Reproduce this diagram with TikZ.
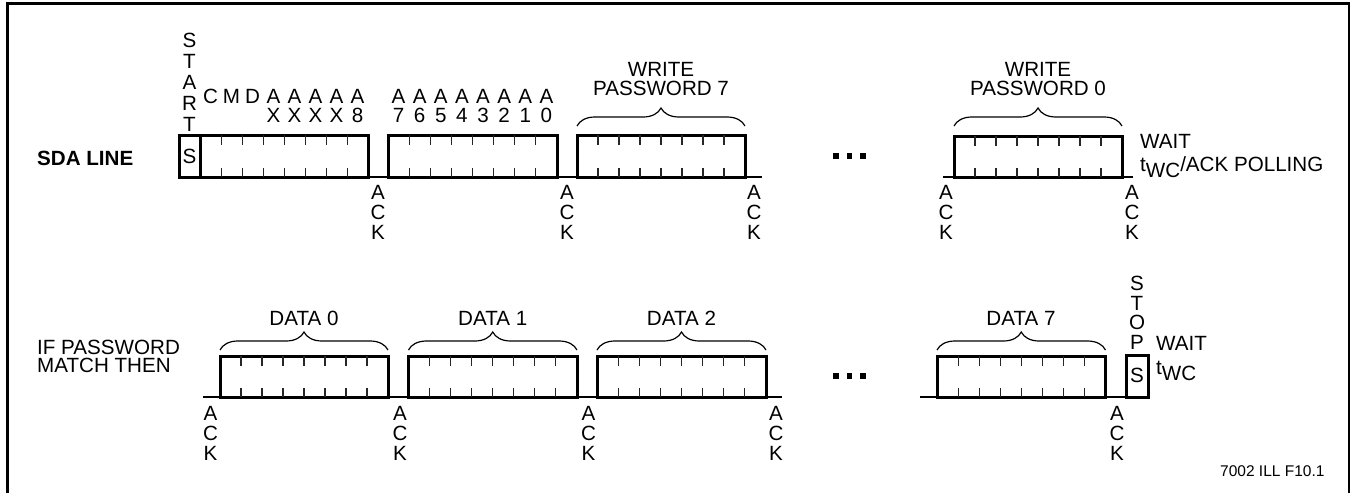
\documentclass[tikz,border=0pt]{standalone}
\usepackage{fontspec}
\setmainfont{Liberation Sans}
\usetikzlibrary{decorations.pathreplacing}
\newcommand\sigbox[4]{%
  \draw[boxline] (#1,#3) rectangle (#2,#4);
  \foreach \k in {1,...,7}{%
    \pgfmathsetmacro\xk{#1+(#2-#1)*\k/8}%
    \draw[tick] (\xk,#3) -- (\xk,#3+10) (\xk,#4) -- (\xk,#4-9);
  }}
\begin{document}
\begin{tikzpicture}[x=1pt,y=-1pt,
  lbl/.style={inner sep=0pt, font=\fontsize{20.6}{20}\selectfont},
  stack/.style={lbl, align=center},
  boxline/.style={line width=3pt},
  base/.style={line width=2.2pt},
  tick/.style={line width=1.1pt, black!85},
  brc/.style={decorate, decoration={brace, amplitude=18pt}, line width=1.2pt},
  frame/.style={line width=2.8pt},
  dot/.style={fill=black}]
\useasboundingbox (0,0) rectangle (1354,493);
\draw[frame] (7.5,493) -- (7.5,3.5) -- (1349,3.5) -- (1349,493);

% ---------- top row ----------
\node[lbl, font=\fontsize{20.6}{20}\selectfont\bfseries, anchor=base west] (sda) at (37,165) {SDA LINE};
\draw[base] (179,177) -- (762,177);
\draw[boxline] (179,135) rectangle (200,177);
\node[lbl] (sstart) at (189.5,156.5) {S};
\sigbox{200}{368.5}{135}{177}
\sigbox{388}{557}{135}{177}
\sigbox{577}{745}{135}{177}
\draw[base] (943,177) -- (1133,177);
\sigbox{954}{1122}{136}{177}

\node[stack, font=\fontsize{20.6}{21}\selectfont, anchor=north] (start) at (189.5,33) {S\\T\\A\\R\\T};

% letters over box 1
\node[lbl, anchor=base] (c1) at (210.5,103) {C};
\node[lbl, anchor=base] (c2) at (231.5,103) {M};
\node[lbl, anchor=base] (c3) at (252.5,103) {D};
\foreach \x/\b [count=\i] in {273.5/X,294.5/X,315.5/X,336.5/X,357.5/8}{
  \node[lbl, anchor=base] (a\i) at (\x,103) {A};
  \node[lbl, anchor=base] (b\i) at (\x,122.5) {\b};
}
% letters over box 2
\foreach \x/\b [count=\i] in {398.6/7,419.7/6,440.8/5,461.9/4,483.1/3,504.2/2,525.3/1,546.4/0}{
  \node[lbl, anchor=base] (aa\i) at (\x,103) {A};
  \node[lbl, anchor=base] (bb\i) at (\x,122.5) {\b};
}

\draw[brc] (577,126) -- (745,126);
\draw[brc] (954,126) -- (1122,126);
\node[stack, font=\fontsize{20.6}{18.7}\selectfont, anchor=north] (wp7) at (661,62) {WRITE\\PASSWORD 7};
\node[stack, font=\fontsize{20.6}{18.7}\selectfont, anchor=north] (wp0) at (1038,62) {WRITE\\PASSWORD 0};

\foreach \x [count=\i] in {378,567,754,946,1132}{
  \node[stack, anchor=north] (ackt\i) at (\x,185) {A\\C\\K};
}

\fill[dot] (833,153) rectangle ++(5.5,5.5);
\fill[dot] (846.5,153) rectangle ++(5.5,5.5);
\fill[dot] (860,153) rectangle ++(5.5,5.5);

\node[lbl, anchor=base west] (wait1) at (1140,148) {WAIT};
\node[lbl, anchor=base west] (twc1) at (1140,171) {t\raisebox{-6pt}{WC}/ACK POLLING};

% ---------- bottom row ----------
\node[stack, font=\fontsize{20.6}{18}\selectfont, align=left, anchor=north west] (ifpw) at (37,340) {IF PASSWORD\\MATCH THEN};
\draw[base] (203,397) -- (782,397);
\sigbox{220}{388}{356}{397}
\sigbox{408.5}{577}{356}{397}
\sigbox{597}{766}{356}{397}
\draw[base] (920,397) -- (1126,397);
\sigbox{937}{1105.5}{356}{397}
\draw[boxline] (1126,355) rectangle (1148,397);
\node[lbl] (sstop) at (1137,375.5) {S};
\node[stack, font=\fontsize{20.6}{19.6}\selectfont, anchor=north] (stop) at (1137,276) {S\\T\\O\\P};

\draw[brc] (220,350) -- (388,350);
\draw[brc] (408.5,350) -- (577,350);
\draw[brc] (597,350) -- (766,350);
\draw[brc] (937,350) -- (1105.5,350);
\node[lbl, anchor=base] (d0) at (304,325) {DATA 0};
\node[lbl, anchor=base] (d1) at (492.7,325) {DATA 1};
\node[lbl, anchor=base] (d2) at (681.5,325) {DATA 2};
\node[lbl, anchor=base] (d7) at (1021,325) {DATA 7};

\foreach \x [count=\i] in {210.5,400,588.5,776,1117}{
  \node[stack, anchor=north] (ackb\i) at (\x,406) {A\\C\\K};
}

\fill[dot] (833,373) rectangle ++(5.5,5.5);
\fill[dot] (846.5,373) rectangle ++(5.5,5.5);
\fill[dot] (860,373) rectangle ++(5.5,5.5);

\node[lbl, anchor=base west] (wait2) at (1156,350) {WAIT};
\node[lbl, anchor=base west] (twc2) at (1156,374.5) {t\raisebox{-5.5pt}{WC}};

\node[lbl, font=\fontsize{15.5}{15}\selectfont, anchor=base west] (ref) at (1220,476) {7002 ILL F10.1};
\end{tikzpicture}
\end{document}
